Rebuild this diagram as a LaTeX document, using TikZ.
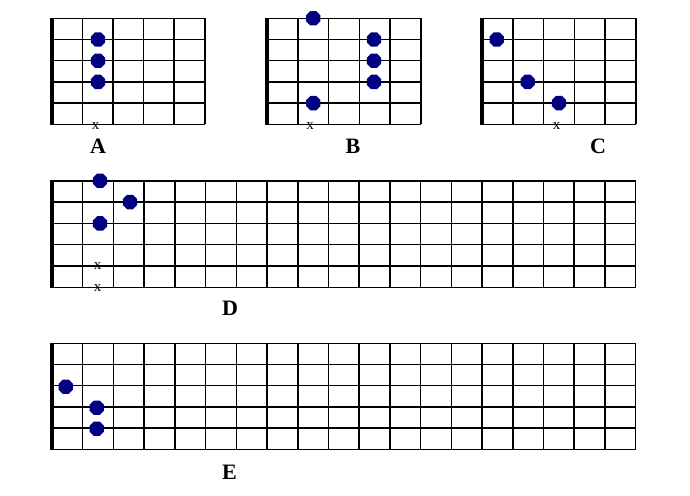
\documentclass[tikz,border=0pt]{standalone}
\usepackage{fontspec}
\setmainfont{Liberation Serif}
\usetikzlibrary{shapes.geometric}
\definecolor{dotblue}{RGB}{0,0,128}
\tikzset{
  gl/.style={line width=1.5pt, black},
  nutbar/.style={line width=3.5pt, black},
  fdot/.style={regular polygon, regular polygon sides=8, fill=dotblue, draw=none, inner sep=0pt, minimum size=15.5pt},
  mute/.style={inner sep=0pt, font=\fontsize{15pt}{15pt}\selectfont},
  lbl/.style={inner sep=0pt, font=\fontsize{22pt}{22pt}\selectfont\bfseries}
}
% #1 x0, #2 y0, #3 columns, #4 dx, #5 dy
\newcommand{\fretboard}[5]{%
  \foreach \c in {0,...,#3} \draw[gl] ({#1+\c*#4},#2) -- ++(0,{5*#5});
  \foreach \r in {0,...,5} \draw[gl] (#1,{#2+\r*#5}) -- ++({#3*#4},0);
  \draw[nutbar] (#1,{#2-0.75}) -- ++(0,{5*#5+1.5});
}
\begin{document}
\begin{tikzpicture}[x=1pt,y=-1pt]
\useasboundingbox[fill=white] (0,0) rectangle (690,495);
% A
\fretboard{52}{18.3}{5}{30.55}{21.2}
\node[fdot] (a1) at (98,39.5) {};
\node[fdot] (a2) at (98,60.7) {};
\node[fdot] (a3) at (98,81.9) {};
\node[mute] (ax) at (95.7,126) {x};
\node[lbl] (la) at (98,146.5) {A};
% B
\fretboard{267}{18.3}{5}{30.75}{21.2}
\node[fdot] (b1) at (313.3,18.3) {};
\node[fdot] (b2) at (374,39.5) {};
\node[fdot] (b3) at (374,60.7) {};
\node[fdot] (b4) at (374,81.9) {};
\node[fdot] (b5) at (313.3,103.1) {};
\node[mute] (bx) at (310,126) {x};
\node[lbl] (lb) at (353,146.5) {B};
% C
\fretboard{482}{18.3}{5}{30.75}{21.2}
\node[fdot] (c1) at (496.7,39.5) {};
\node[fdot] (c2) at (527.7,81.9) {};
\node[fdot] (c3) at (559,103.1) {};
\node[mute] (cx) at (556.7,126) {x};
\node[lbl] (lc) at (598,146.5) {C};
% D
\fretboard{52}{180.8}{19}{30.72}{21.3}
\node[fdot] (d1) at (100,180.8) {};
\node[fdot] (d2) at (130,202.1) {};
\node[fdot] (d3) at (100,223.4) {};
\node[mute] (dx1) at (97.7,266.5) {x};
\node[mute] (dx2) at (97.7,288.3) {x};
\node[lbl] (ld) at (230,308.5) {D};
% E
\fretboard{52}{343.3}{19}{30.72}{21.2}
\node[fdot] (e1) at (65.7,386.7) {};
\node[fdot] (e2) at (96.7,407.8) {};
\node[fdot] (e3) at (96.7,428.7) {};
\node[lbl] (le) at (229.5,472.5) {E};
\end{tikzpicture}
\end{document}
